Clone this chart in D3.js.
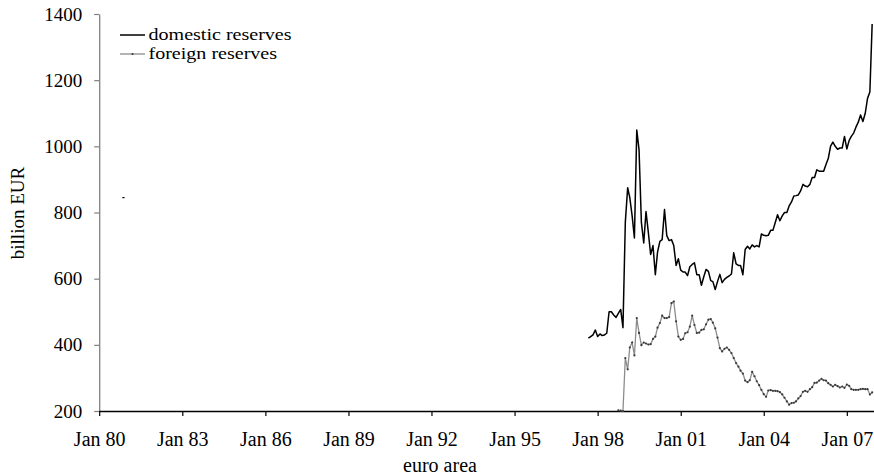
<!DOCTYPE html>
<html>
<head>
<meta charset="utf-8">
<script src="https://cdn.jsdelivr.net/npm/d3@7"></script>
<style>
  body { margin: 0; background: #fff; }
</style>
</head>
<body>
<svg id="chart"></svg>
<script>
// monthly series, billion EUR
const domesticStart = "1997-09";
const domesticValues = [
  420, 425, 430, 445, 425, 433, 428, 430, 435, 500,
  500, 490, 483, 495, 507, 452, 770, 875, 845, 790,
  723, 1049, 990, 770, 708, 803, 739, 673, 700, 612,
  680, 713, 718, 809, 730, 715, 718, 700, 640, 660,
  626, 620, 620, 609, 636, 643, 648, 612, 612, 580,
  606, 628, 622, 594, 591, 567, 591, 613, 588, 598,
  604, 608, 614, 678, 645, 640, 640, 612, 688, 698,
  690, 702, 696, 700, 696, 735, 731, 730, 731, 746,
  746, 770, 793, 775, 790, 800, 800, 820, 832, 850,
  851, 853, 865, 885, 880, 878, 885, 906, 906, 929,
  925, 925, 925, 945, 963, 1001, 1013, 1000, 991, 995,
  995, 1030, 992, 1018, 1030, 1040, 1058, 1073, 1095, 1075,
  1100, 1145, 1164, 1370
];

const foreignStart = "1998-10";
const foreignValues = [
  202, 201, 200, 360, 326, 392, 407, 368, 481, 436,
  399, 407, 404, 401, 402, 418, 425, 452, 466, 488,
  481, 481, 484, 526, 531, 471, 425, 415, 418, 435,
  438, 455, 488, 460, 436, 437, 445, 447, 462, 476,
  478, 467, 450, 422, 390, 380, 388, 392, 385, 375,
  360, 345, 334, 322, 313, 292, 287, 293, 318, 305,
  290, 278, 264, 251, 243, 262, 263, 261, 261, 260,
  257, 250, 240, 229, 219, 224, 225, 229, 238, 245,
  258, 261, 258, 266, 272, 285, 286, 292, 297, 293,
  292, 284, 279, 274, 279, 275, 271, 274, 270, 280,
  276, 266, 264, 264, 264, 266, 267, 266, 266, 250,
  256
];

// lone early observation of domestic reserves
const strayDates = ["1980-11", "1980-12"];
const strayValues = [845, 845];

const seriesNames = ["domestic reserves", "foreign reserves"];
const yTicks = [200, 400, 600, 800, 1000, 1200, 1400];
const xTickYears = [1980, 1983, 1986, 1989, 1992, 1995, 1998, 2001, 2004, 2007];
const xTitle = "euro area";
const yTitle = "billion EUR";

const width = 874;
const height = 476;
const serif = '"Liberation Serif", "Times New Roman", serif';
const parseMonth = d3.timeParse("%Y-%m");

function monthly(start, values) {
  const t0 = parseMonth(start);
  return values.map((v, i) => ({ date: d3.timeMonth.offset(t0, i), value: v }));
}

const domestic = monthly(domesticStart, domesticValues);
const foreign = monthly(foreignStart, foreignValues);
const stray = strayDates.map((d, i) => ({ date: parseMonth(d), value: strayValues[i] }));

const svg = d3.select("#chart").attr("width", width).attr("height", height);

const x = d3.scaleTime()
  .domain([new Date(1980, 0, 1), new Date(2008, 0, 1)])
  .range([99.2, 874.5]);

const y = d3.scaleLinear().domain([200, 1400]).range([411, 14]);

const line = d3.line().x((d) => x(d.date)).y((d) => y(d.value));

// y axis (grey)
const yAxis = svg.append("g")
  .attr("transform", "translate(99.2,0)")
  .call(d3.axisLeft(y).tickValues(yTicks).tickFormat(d3.format("d")).tickSize(5).tickSizeOuter(0).tickPadding(12))
  .attr("font-family", serif)
  .attr("font-size", 19);
yAxis.select(".domain").attr("stroke", "#808080").attr("stroke-width", 1.3);
yAxis.selectAll(".tick line").attr("stroke", "#808080").attr("stroke-width", 1.2);
yAxis.selectAll("text").attr("fill", "#000");

// x axis (black)
const xAxis = svg.append("g")
  .attr("transform", "translate(0,411)")
  .call(d3.axisBottom(x)
    .tickValues(xTickYears.map((yr) => new Date(yr, 0, 1)))
    .tickFormat(d3.timeFormat("%b %y"))
    .tickSize(5).tickSizeOuter(0).tickPadding(16))
  .attr("font-family", serif)
  .attr("font-size", 20);
xAxis.select(".domain").attr("stroke", "#000").attr("stroke-width", 1.5);
xAxis.selectAll(".tick line").attr("stroke", "#000").attr("stroke-width", 1.2);
xAxis.selectAll("text").attr("fill", "#000");

// series
svg.append("path")
  .datum(foreign)
  .attr("fill", "none")
  .attr("stroke", "#8c8c8c")
  .attr("stroke-width", 1.3)
  .attr("d", line);

svg.append("g")
  .selectAll("circle")
  .data(foreign)
  .enter()
  .append("circle")
  .attr("cx", (d) => x(d.date))
  .attr("cy", (d) => y(d.value))
  .attr("r", 1.1)
  .attr("fill", "#3a3a3a");

svg.append("path")
  .datum(domestic)
  .attr("fill", "none")
  .attr("stroke", "#000")
  .attr("stroke-width", 1.5)
  .attr("stroke-linejoin", "round")
  .attr("d", line);

svg.append("path")
  .datum(stray)
  .attr("fill", "none")
  .attr("stroke", "#000")
  .attr("stroke-width", 1.2)
  .attr("d", line);

// legend
const legend = svg.append("g").attr("transform", "translate(120,35)");
const item = legend.selectAll("g")
  .data(seriesNames)
  .enter()
  .append("g")
  .attr("transform", (d, i) => `translate(0,${i * 19})`);

item.append("line")
  .attr("x1", 0).attr("x2", 25)
  .attr("stroke", (d, i) => (i === 0 ? "#000" : "#8c8c8c"))
  .attr("stroke-width", (d, i) => (i === 0 ? 1.5 : 1.3));

item.filter((d, i) => i === 1)
  .append("circle")
  .attr("cx", 12.5).attr("r", 1.1)
  .attr("fill", "#3a3a3a");

// legend text is drawn a little wider than tall, as in the source
item.append("text")
  .attr("transform", "translate(28.5,5) scale(1.18,1)")
  .attr("font-family", serif)
  .attr("font-size", 17)
  .text((d) => d);

// axis titles
svg.append("text")
  .attr("x", 440)
  .attr("y", 472)
  .attr("text-anchor", "middle")
  .attr("font-family", serif)
  .attr("font-size", 20)
  .text(xTitle);

svg.append("text")
  .attr("transform", "translate(24,213) rotate(-90)")
  .attr("text-anchor", "middle")
  .attr("font-family", serif)
  .attr("font-size", 19)
  .text(yTitle);
</script>
</body>
</html>
